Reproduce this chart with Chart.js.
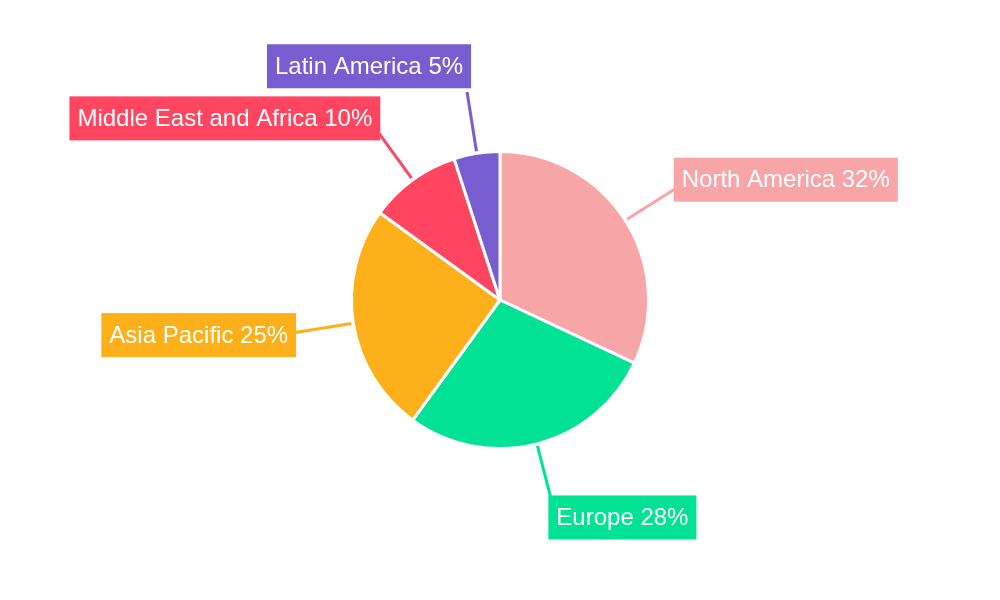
<!DOCTYPE html>
<html>
<head>
<meta charset="utf-8">
<script src="https://cdn.jsdelivr.net/npm/chart.js@4"></script>
<style>
  html, body { margin: 0; padding: 0; background: #fff; }
  #wrap { width: 1000px; height: 600px; }
</style>
</head>
<body>
<div id="wrap"><canvas id="pie"></canvas></div>
<script>
// datos del gráfico
const regions = ['North America', 'Europe', 'Asia Pacific', 'Middle East and Africa', 'Latin America'];
const shares = [32, 28, 25, 10, 5];
const colors = ['#F8A5A8', '#02E294', '#FDB01A', '#FF4560', '#775DD0'];

// plugin para las etiquetas con línea guía
const calloutPlugin = {
  id: 'callouts',
  afterDatasetsDraw(chart) {
    const ctx = chart.ctx;
    const meta = chart.getDatasetMeta(0);
    ctx.save();
    ctx.font = '24px "Liberation Sans", Arial, sans-serif';
    meta.data.forEach((arc, i) => {
      const mid = (arc.startAngle + arc.endAngle) / 2;
      const cx = arc.x, cy = arc.y, r = arc.outerRadius;
      const ux = Math.cos(mid), uy = Math.sin(mid);
      const x0 = cx + ux * (r + 2), y0 = cy + uy * (r + 2);
      const x1 = cx + ux * (r + 62), y1 = cy + uy * (r + 62);
      ctx.strokeStyle = colors[i];
      ctx.lineWidth = 3;
      ctx.beginPath();
      ctx.moveTo(x0, y0);
      ctx.lineTo(x1, y1);
      ctx.stroke();

      const text = regions[i] + ' ' + shares[i] + '%';
      const w = ctx.measureText(text).width + 16;
      const h = 44;
      const left = ux >= 0 ? x1 - 4 : x1 - w + 4;
      const top = y1 + uy * 14 - h / 2 - (uy < -0.95 ? 12 : 0);
      ctx.fillStyle = colors[i];
      ctx.fillRect(left, top, w, h);
      ctx.fillStyle = '#fff';
      ctx.textBaseline = 'middle';
      ctx.textAlign = 'left';
      ctx.fillText(text, left + 8, top + h / 2 + 1);
    });
    ctx.restore();
  }
};

new Chart(document.getElementById('pie').getContext('2d'), {
  type: 'pie',
  data: {
    labels: regions,
    datasets: [{
      data: shares,
      backgroundColor: colors,
      borderColor: '#fff',
      borderWidth: 3
    }]
  },
  options: {
    responsive: true,
    maintainAspectRatio: false,
    animation: false,
    layout: { padding: { top: 150, bottom: 150 } },
    plugins: {
      legend: { display: false },
      tooltip: { enabled: false }
    }
  },
  plugins: [calloutPlugin]
});
</script>
</body>
</html>
